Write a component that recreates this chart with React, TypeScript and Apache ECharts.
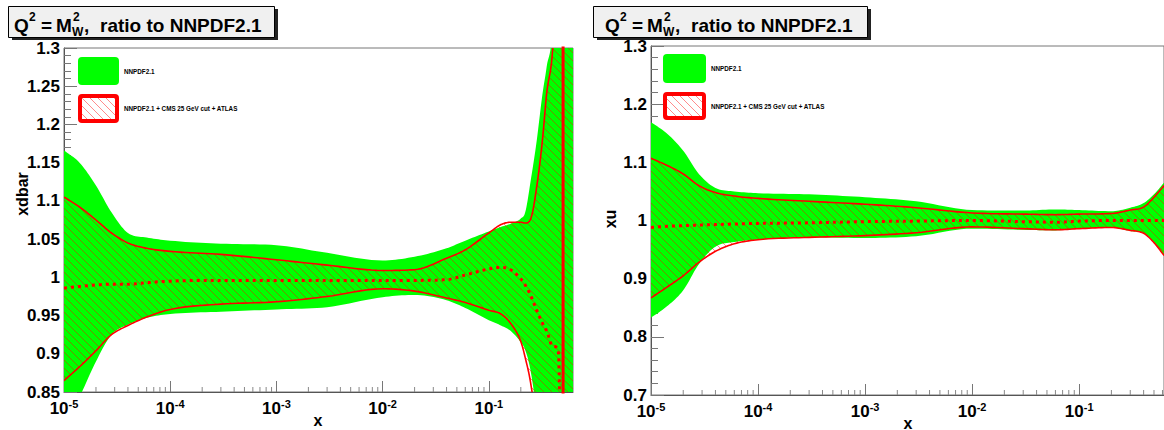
import React, { useEffect, useRef } from "react";
import * as echarts from "echarts";

// ---------- data: left panel (xdbar) ----------
const xL = [1e-5, 1.4e-5, 2e-5, 2.8e-5, 4e-5, 6e-5, 1e-4, 3e-4, 1e-3, 3e-3, 1e-2, 2e-2, 4e-2, 6e-2, 0.1, 0.13, 0.16, 0.2, 0.22, 0.25, 0.28, 0.32, 0.35, 0.4, 0.45, 0.5, 0.55, 0.62];
const greenUpL = [1.166, 1.15, 1.12, 1.085, 1.058, 1.052, 1.048, 1.044, 1.042, 1.032, 1.022, 1.027, 1.038, 1.048, 1.06, 1.066, 1.07, 1.077, 1.085, 1.13, 1.175, 1.24, 1.275, 1.34, 1.6, 2, 2, 2];
const greenLoL = [0.8, 0.843, 0.89, 0.925, 0.938, 0.947, 0.952, 0.955, 0.958, 0.961, 0.974, 0.977, 0.97, 0.96, 0.944, 0.937, 0.93, 0.915, 0.905, 0.874, 0.82, 0.7, 0.5, 0, 0, 0, 0, 0];
const redUpL = [1.105, 1.092, 1.075, 1.058, 1.045, 1.038, 1.034, 1.03, 1.023, 1.016, 1.009, 1.01, 1.025, 1.036, 1.058, 1.069, 1.072, 1.072, 1.071, 1.078, 1.115, 1.18, 1.24, 1.3, 1.45, 2, 2, 2];
const redLoL = [0.865, 0.883, 0.904, 0.925, 0.937, 0.948, 0.958, 0.965, 0.968, 0.975, 0.985, 0.982, 0.973, 0.967, 0.957, 0.952, 0.94, 0.916, 0.895, 0.858, 0.8, 0.6, 0.4, 0.3, 0.3, 0.3, 0.3, 0.3];
const redMidL = [0.986, 0.988, 0.99, 0.991, 0.991, 0.993, 0.995, 0.996, 0.996, 0.996, 0.996, 0.996, 0.997, 1.003, 1.011, 1.013, 1.01, 0.998, 0.99, 0.975, 0.958, 0.94, 0.93, 0.91, 0.905, 0.5, null, null];
const edgeXL = 0.5;

// ---------- data: right panel (xu) ----------
const xR = [1e-5, 1.4e-5, 2e-5, 2.8e-5, 4e-5, 6e-5, 1e-4, 3e-4, 1e-3, 3e-3, 1e-2, 3e-2, 6e-2, 0.1, 0.2, 0.3, 0.4, 0.5, 0.62];
const greenUpR = [1.169, 1.15, 1.12, 1.08, 1.056, 1.05, 1.047, 1.045, 1.04, 1.033, 1.018, 1.017, 1.019, 1.018, 1.016, 1.022, 1.03, 1.045, 1.065];
const greenLoR = [0.833, 0.852, 0.88, 0.925, 0.955, 0.963, 0.967, 0.971, 0.97, 0.973, 0.986, 0.984, 0.983, 0.986, 0.988, 0.982, 0.978, 0.962, 0.94];
const redUpR = [1.107, 1.095, 1.08, 1.06, 1.048, 1.042, 1.038, 1.033, 1.028, 1.022, 1.013, 1.011, 1.01, 1.011, 1.012, 1.018, 1.023, 1.04, 1.06];
const redLoR = [0.867, 0.885, 0.905, 0.928, 0.947, 0.96, 0.967, 0.971, 0.974, 0.979, 0.989, 0.986, 0.984, 0.986, 0.988, 0.983, 0.978, 0.962, 0.94];
const redMidR = [0.988, 0.99, 0.991, 0.992, 0.993, 0.994, 0.995, 0.996, 0.998, 0.999, 1.0, 0.998, 0.997, 0.999, 1.0, 1.0, 1.0, 1.0, 1.0];

// ---------- axes ----------
const xMin = 1e-5;
const xMax = 0.62;
const xDecades = [-5, -4, -3, -2, -1];
const minorMult = [2, 3, 4, 5, 6, 7, 8, 9];
const yL = { min: 0.85, max: 1.3, interval: 0.05 };
const yR = { min: 0.7, max: 1.3, interval: 0.1 };

const titleMain = "ratio to NNPDF2.1";
const legendLabels = ["NNPDF2.1", "NNPDF2.1 + CMS 25 GeV cut + ATLAS"];
const yNames = ["xdbar", "xu"];
const xName = "x";

const GREEN = "#00ff00";
const RED = "#ff0000";
const FONT = "Liberation Sans, Arial, Helvetica, sans-serif";

function makeHatch(): HTMLCanvasElement {
  const c = document.createElement("canvas");
  c.width = 8;
  c.height = 8;
  const g = c.getContext("2d")!;
  g.strokeStyle = "rgba(255,0,0,0.45)";
  g.lineWidth = 1;
  g.beginPath();
  g.moveTo(-1, -1);
  g.lineTo(9, 9);
  g.moveTo(-1, 7);
  g.lineTo(1, 9);
  g.moveTo(7, -1);
  g.lineTo(9, 1);
  g.stroke();
  return c;
}

const minorTicks: number[] = [];
xDecades.forEach((d) => {
  minorMult.forEach((m) => {
    const v = m * Math.pow(10, d);
    if (v < xMax) minorTicks.push(v);
  });
});

// monotone cubic resampling of pixel points (drawing only)
function monoPath(pts: number[][], sub = 10): number[][] {
  const n = pts.length;
  if (n < 3) return pts;
  const dx: number[] = [];
  const d: number[] = [];
  for (let i = 0; i < n - 1; i++) {
    dx[i] = pts[i + 1][0] - pts[i][0];
    d[i] = dx[i] === 0 ? 0 : (pts[i + 1][1] - pts[i][1]) / dx[i];
  }
  const m: number[] = new Array(n).fill(0);
  m[0] = d[0];
  m[n - 1] = d[n - 2];
  for (let i = 1; i < n - 1; i++) {
    m[i] = d[i - 1] * d[i] <= 0 ? 0 : (d[i - 1] + d[i]) / 2;
  }
  for (let i = 0; i < n - 1; i++) {
    if (d[i] === 0) {
      m[i] = 0;
      m[i + 1] = 0;
    } else {
      const a = m[i] / d[i];
      const b = m[i + 1] / d[i];
      const s = a * a + b * b;
      if (s > 9) {
        const t = 3 / Math.sqrt(s);
        m[i] = t * a * d[i];
        m[i + 1] = t * b * d[i];
      }
    }
  }
  const out: number[][] = [];
  for (let i = 0; i < n - 1; i++) {
    const h = dx[i];
    const y0 = pts[i][1];
    const y1 = pts[i + 1][1];
    for (let k = 0; k < sub; k++) {
      const t = k / sub;
      const t2 = t * t;
      const t3 = t2 * t;
      const h00 = 2 * t3 - 3 * t2 + 1;
      const h10 = t3 - 2 * t2 + t;
      const h01 = -2 * t3 + 3 * t2;
      const h11 = t3 - t2;
      out.push([pts[i][0] + t * h, h00 * y0 + h10 * h * m[i] + h01 * y1 + h11 * h * m[i + 1]]);
    }
  }
  out.push(pts[n - 1]);
  return out;
}

function bandSeries(xs: number[], lo: number[], hi: number[], fill: any, idx: number, z: number) {
  return {
    type: "custom",
    xAxisIndex: idx,
    yAxisIndex: idx,
    silent: true,
    clip: true,
    z,
    data: xs.map((x, i) => [x, lo[i], hi[i]]),
    encode: { x: 0, y: [1, 2] },
    renderItem: (params: any, api: any) => {
      if (params.dataIndex !== 0) return null;
      const top = monoPath(xs.map((x, i) => api.coord([x, hi[i]])));
      const bot = monoPath(xs.map((x, i) => api.coord([x, lo[i]]))).reverse();
      return { type: "polygon", shape: { points: top.concat(bot) }, style: { fill } };
    },
  };
}

function curveSeries(xs: number[], ys: (number | null)[], idx: number, dashed: boolean) {
  return {
    type: "custom",
    xAxisIndex: idx,
    yAxisIndex: idx,
    silent: true,
    clip: true,
    z: 4,
    data: xs.map((x, i) => [x, ys[i] == null ? NaN : ys[i]]),
    encode: { x: 0, y: 1 },
    renderItem: (params: any, api: any) => {
      if (params.dataIndex !== 0) return null;
      const segs: number[][][] = [];
      let cur: number[][] = [];
      xs.forEach((x, i) => {
        const v = ys[i];
        if (v == null) {
          if (cur.length) segs.push(cur);
          cur = [];
        } else cur.push(api.coord([x, v]));
      });
      if (cur.length) segs.push(cur);
      return {
        type: "group",
        children: segs.map((s) => ({
          type: "polyline",
          shape: { points: monoPath(s) },
          style: dashed
            ? { stroke: RED, lineWidth: 3, lineDash: [3, 4], fill: null }
            : { stroke: RED, lineWidth: 1.6, fill: null },
        })),
      };
    },
  };
}

function tickSeries(idx: number, yMin: number) {
  return {
    type: "custom",
    xAxisIndex: idx,
    yAxisIndex: idx,
    silent: true,
    z: 1,
    data: minorTicks.map((v) => [v, yMin]),
    renderItem: (params: any, api: any) => {
      const p = api.coord([api.value(0), api.value(1)]);
      return {
        type: "line",
        shape: { x1: p[0], y1: p[1], x2: p[0], y2: p[1] - 5 },
        style: { stroke: "#888", lineWidth: 1 },
      };
    },
  };
}

function xAxisOpt(idx: number) {
  return {
    type: "log",
    logBase: 10,
    gridIndex: idx,
    min: xMin,
    max: xMax,
    axisLine: { lineStyle: { color: "#555", width: 1 } },
    axisTick: { inside: true, length: 11, lineStyle: { color: "#777" } },
    splitLine: { show: false },
    axisLabel: {
      margin: 6,
      showMaxLabel: false,
      formatter: (v: number) => {
        const e = Math.round(Math.log10(v));
        if (xDecades.indexOf(e) < 0) return "";
        return "{b|10}{s|" + e + "}";
      },
      rich: {
        b: { fontSize: 17, fontWeight: "bold", color: "#000", fontFamily: FONT, lineHeight: 20 },
        s: { fontSize: 11, fontWeight: "bold", color: "#000", fontFamily: FONT, verticalAlign: "top", lineHeight: 20 },
      },
    },
  };
}

function yAxisOpt(idx: number, r: { min: number; max: number; interval: number }) {
  return {
    type: "value",
    gridIndex: idx,
    min: r.min,
    max: r.max,
    interval: r.interval,
    axisLine: { show: true, lineStyle: { color: "#555", width: 1 } },
    axisTick: { show: true, inside: true, length: 13, lineStyle: { color: "#777" } },
    minorTick: { show: true, splitNumber: 5, length: 7, lineStyle: { color: "#777" } },
    splitLine: { show: false },
    axisLabel: { margin: 4, fontSize: 17, fontWeight: "bold", color: "#000", fontFamily: FONT },
  };
}

function textEl(text: string, x: number, y: number, size: number, extra: any = {}) {
  return {
    type: "text",
    x,
    y,
    z: 100,
    ...extra,
    style: {
      text,
      fontSize: size,
      fontWeight: "bold",
      fontFamily: FONT,
      fill: "#000",
      align: extra.align || "left",
      verticalAlign: "middle",
      textAlign: extra.align || "left",
      textVerticalAlign: "middle",
    },
  };
}

function titleEls(boxX: number, boxW: number, tx: number) {
  return [
    { type: "rect", z: 99, shape: { x: boxX + 4, y: 9, width: boxW, height: 31 }, style: { fill: "#222" } },
    { type: "rect", z: 99, shape: { x: boxX + 0.5, y: 6.5, width: boxW, height: 31 }, style: { fill: "#f0f0f0", stroke: "#000", lineWidth: 1 } },
    textEl("Q", tx, 25, 19),
    textEl("2", tx + 15, 17, 12),
    textEl("=", tx + 27, 25, 19),
    textEl("M", tx + 42, 25, 19),
    textEl("2", tx + 59, 17, 12),
    textEl("W", tx + 58, 32, 12),
    textEl(",", tx + 70, 25, 19),
    textEl(titleMain, tx + 86, 25, 19),
  ];
}

function legendEls(gx: number, gy: number, gw: number, gh: number, ry: number, rh: number, tx: number, hatch: any) {
  return [
    { type: "rect", z: 99, shape: { x: gx, y: gy, width: gw, height: gh, r: 4 }, style: { fill: GREEN } },
    { type: "rect", z: 99, shape: { x: gx + 2, y: ry, width: gw - 4, height: rh, r: 2 }, style: { fill: "#fff" } },
    { type: "rect", z: 99, shape: { x: gx + 2, y: ry, width: gw - 4, height: rh, r: 2 }, style: { fill: { image: hatch, repeat: "repeat" }, stroke: RED, lineWidth: 4 } },
    textEl(legendLabels[0], tx, gy + gh / 2, 6.3),
    textEl(legendLabels[1], tx, ry + rh / 2, 6.3),
  ];
}

export default function App() {
  const ref = useRef<HTMLDivElement>(null);
  useEffect(() => {
    if (!ref.current) return;
    const chart = echarts.init(ref.current, undefined, { renderer: "svg" });
    const hatch = makeHatch();
    const hatchFill = { image: hatch, repeat: "repeat" };

    const series: any[] = [
      tickSeries(0, yL.min),
      bandSeries(xL, greenLoL, greenUpL, GREEN, 0, 2),
      bandSeries(xL, redLoL, redUpL, hatchFill, 0, 3),
      curveSeries(xL, redUpL, 0, false),
      curveSeries(xL, redLoL, 0, false),
      curveSeries(xL, redMidL, 0, true),
      {
        type: "line",
        xAxisIndex: 0,
        yAxisIndex: 0,
        silent: true,
        symbol: "none",
        lineStyle: { color: RED, width: 3 },
        data: [[edgeXL, 0.5], [edgeXL, 2]],
        z: 5,
      },
      tickSeries(1, yR.min),
      bandSeries(xR, greenLoR, greenUpR, GREEN, 1, 2),
      bandSeries(xR, redLoR, redUpR, hatchFill, 1, 3),
      curveSeries(xR, redUpR, 1, false),
      curveSeries(xR, redLoR, 1, false),
      curveSeries(xR, redMidR, 1, true),
    ];

    chart.setOption({
      animation: false,
      backgroundColor: "#fff",
      grid: [
        { left: 64, right: 591, top: 48, bottom: 38, show: true, borderColor: "#777", borderWidth: 1, backgroundColor: "transparent" },
        { left: 651, right: -4.5, top: 46, bottom: 35, show: true, borderColor: "#777", borderWidth: 1, backgroundColor: "transparent" },
      ],
      xAxis: [xAxisOpt(0), xAxisOpt(1)],
      yAxis: [yAxisOpt(0, yL), yAxisOpt(1, yR)],
      series,
      graphic: [
        ...titleEls(8, 266, 14),
        ...titleEls(593, 274, 605),
        ...legendEls(78, 57, 41, 28, 96, 25, 124, hatch),
        ...legendEls(663, 54, 43, 29, 94, 24, 711, hatch),
        textEl(yNames[0], 22, 194, 16, { rotation: Math.PI / 2, align: "center" }),
        textEl(yNames[1], 610, 219, 16, { rotation: Math.PI / 2, align: "center" }),
        textEl(xName, 318, 420, 16, { align: "center" }),
        textEl(xName, 908, 423, 16, { align: "center" }),
      ],
    });
    return () => chart.dispose();
  }, []);
  return (
    <div
      ref={ref}
      style={{ position: "absolute", left: 0, top: 0, width: 1164, height: 430, overflow: "hidden" }}
    />
  );
}
